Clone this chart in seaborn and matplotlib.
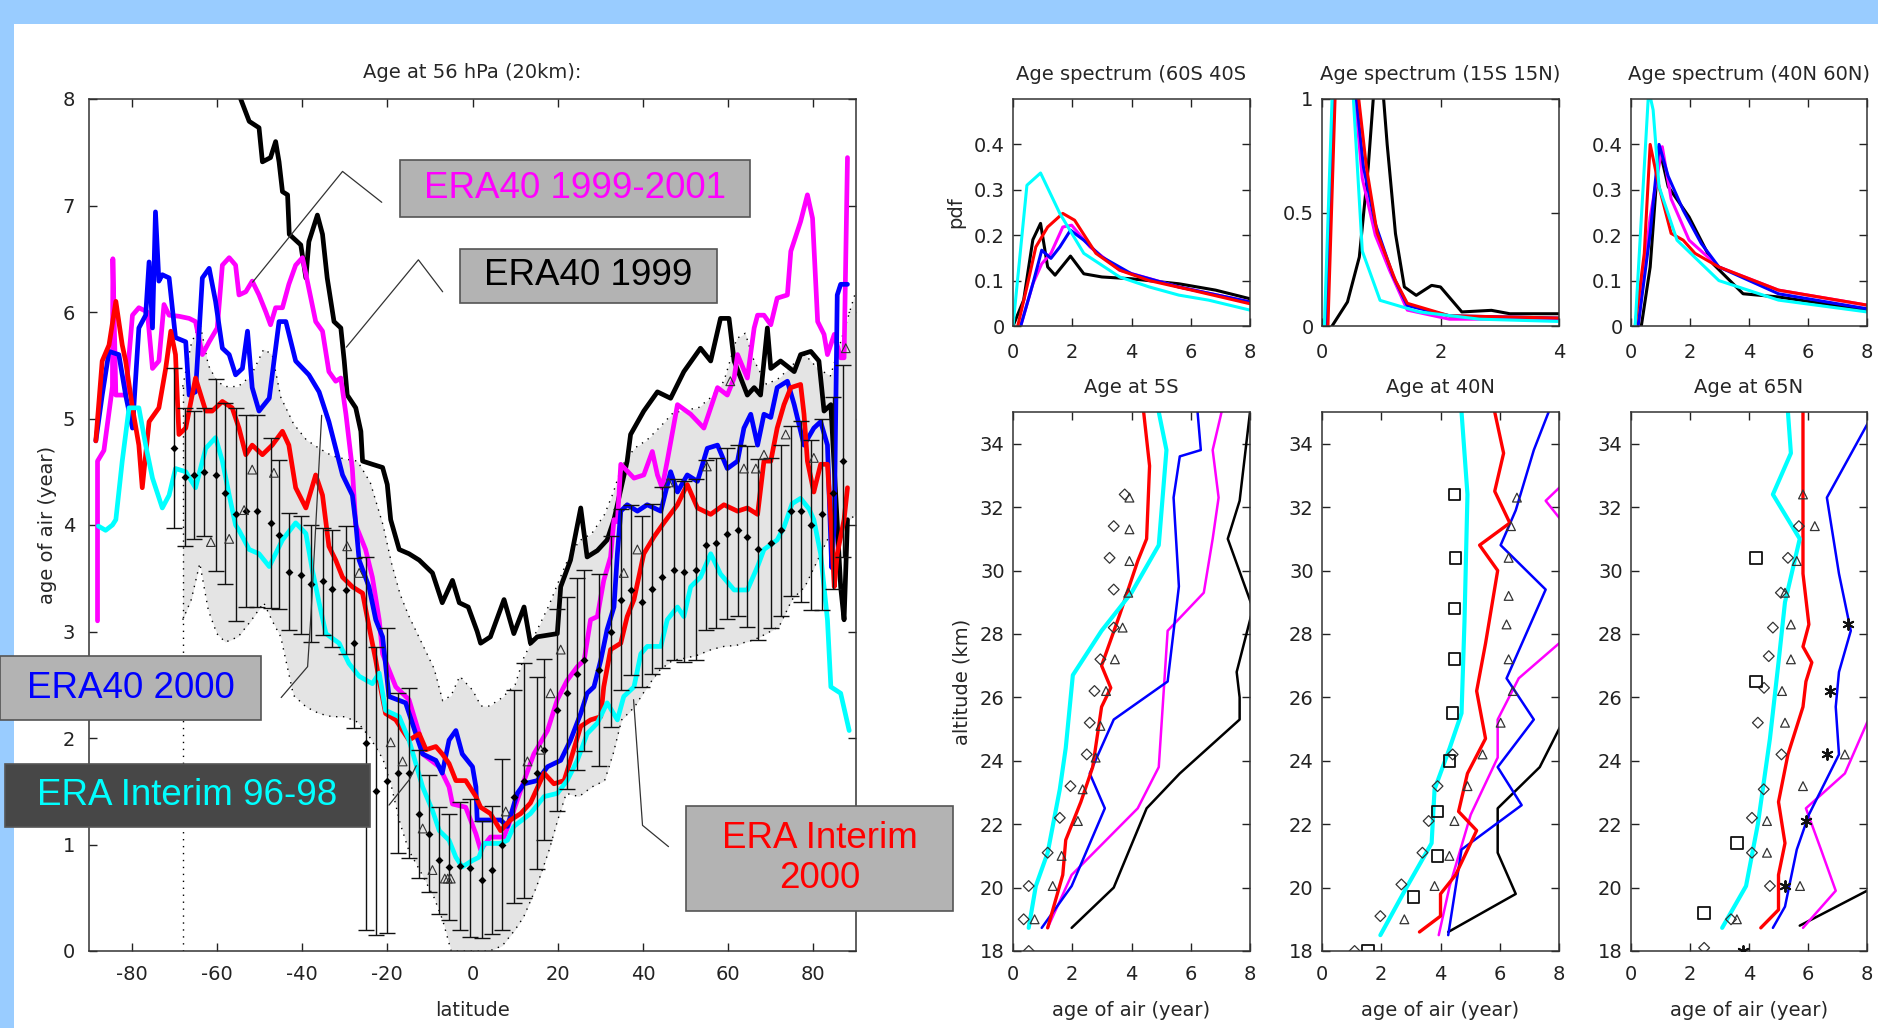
import numpy as np
import matplotlib
matplotlib.use("Agg")
import matplotlib.pyplot as plt
from matplotlib.patches import Rectangle
import seaborn as sns

# ---------------- main panel data (latitude, age in years) ----------------
era40_1999 = [(-56, 8.3), (-54.4, 8.0), (-52.4, 7.79), (-50.1, 7.73), (-49.3, 7.41), (-47.4, 7.45), (-46.2, 7.6),
              (-45.4, 7.41), (-44.6, 7.13), (-43.4, 7.1), (-43.0, 6.73), (-40.3, 6.63), (-39.1, 6.32), (-38.4, 6.66),
              (-36.4, 6.91), (-35.2, 6.73), (-34.1, 6.32), (-32.5, 5.91), (-30.9, 5.85), (-30.1, 5.54), (-29.4, 5.22),
              (-27.4, 5.1), (-26.2, 4.88), (-25.8, 4.6), (-23.5, 4.57), (-21.1, 4.54), (-20.0, 4.38), (-19.2, 4.05),
              (-17.2, 3.77), (-14.9, 3.73), (-12.5, 3.67), (-9.4, 3.55), (-7.1, 3.27), (-4.7, 3.48), (-3.1, 3.27),
              (-1.0, 3.23), (1.1, 3.0), (1.9, 2.89), (4.2, 2.95), (7.4, 3.3), (9.7, 2.98), (12.1, 3.23), (13.6, 2.89),
              (15.2, 2.95), (19.9, 2.98), (20.7, 3.42), (23.0, 3.67), (25.4, 4.16), (26.9, 3.7), (29.3, 3.76),
              (31.6, 3.86), (33.2, 4.05), (36.3, 4.6), (37.1, 4.85), (40.2, 5.07), (43.4, 5.25), (46.5, 5.19),
              (49.6, 5.44), (53.5, 5.66), (55.9, 5.54), (58.2, 5.94), (60.2, 5.94), (61.4, 5.54), (64.5, 5.22),
              (66.1, 5.29), (67.6, 5.22), (69.2, 5.85), (70.0, 5.47), (72.3, 5.54), (75.5, 5.44), (77.0, 5.6),
              (79.4, 5.63), (81.3, 5.54), (82.5, 5.07), (84.1, 5.13), (86.4, 3.42), (87.2, 3.11), (88.0, 4.05)]

era40_1999_2001 = [(-88.0, 3.1), (-88.0, 4.6), (-86.5, 4.7), (-84.5, 5.3), (-84.4, 6.5), (-83.7, 5.22), (-81.4, 5.22),
                   (-79.8, 5.97), (-78.3, 6.04), (-76.3, 6.0), (-75.1, 5.47), (-73.6, 5.54), (-72.4, 6.07),
                   (-71.2, 5.97), (-68.9, 5.96), (-66.5, 5.94), (-65.0, 5.91), (-63.4, 5.6), (-61.8, 5.72),
                   (-59.9, 5.85), (-58.7, 6.44), (-57.1, 6.51), (-55.6, 6.44), (-54.8, 6.16), (-53.2, 6.19),
                   (-51.7, 6.29), (-50.1, 6.16), (-48.5, 6.0), (-47.4, 5.88), (-46.2, 6.04), (-44.6, 6.04),
                   (-43.1, 6.26), (-41.5, 6.44), (-39.9, 6.51), (-38.4, 6.22), (-36.8, 5.91), (-35.2, 5.82),
                   (-33.7, 5.44), (-32.1, 5.35), (-30.9, 5.38), (-29.7, 5.04), (-28.2, 4.53), (-27.4, 4.0),
                   (-25.1, 3.77), (-23.5, 3.51), (-21.9, 3.11), (-21.1, 2.79), (-19.6, 2.64), (-18.0, 2.48),
                   (-14.9, 2.36), (-12.5, 2.04), (-11.7, 1.85), (-7.8, 1.73), (-5.5, 1.54), (-4.7, 1.38),
                   (-1.6, 1.35), (0.8, 1.1), (1.9, 0.95), (4.2, 1.07), (7.4, 1.07), (8.9, 1.23), (12.1, 1.6),
                   (14.4, 1.85), (17.6, 2.07), (19.9, 2.36), (22.2, 2.54), (24.6, 2.67), (26.2, 2.73), (27.7, 3.11),
                   (29.3, 3.14), (30.8, 3.48), (32.4, 3.7), (33.2, 4.05), (34.0, 4.03), (34.8, 4.57), (37.9, 4.44),
                   (40.2, 4.47), (42.2, 4.69), (43.4, 4.47), (44.5, 4.35), (45.7, 4.6), (48.1, 5.13), (51.2, 5.04),
                   (54.3, 4.91), (57.5, 5.29), (59.8, 5.22), (61.4, 5.38), (62.2, 5.6), (64.5, 5.38), (66.1, 5.85),
                   (66.9, 5.97), (68.4, 5.97), (70.0, 5.88), (71.5, 6.13), (73.9, 6.16), (74.7, 6.57), (77.0, 6.85),
                   (78.6, 7.1), (79.8, 6.88), (81.0, 5.91), (82.5, 5.79), (83.3, 5.6), (84.9, 5.79), (86.4, 5.57),
                   (87.2, 5.57), (88.0, 7.45)]

era40_2000 = [(-88.4, 4.79), (-86.9, 5.22), (-85.3, 5.63), (-83.0, 5.6), (-81.4, 5.22), (-79.8, 4.91), (-78.3, 5.85),
              (-76.7, 5.97), (-75.9, 6.47), (-75.1, 5.85), (-74.4, 6.94), (-73.6, 6.29), (-72.8, 6.35), (-71.2, 6.32),
              (-69.7, 5.76), (-67.3, 5.72), (-66.5, 5.22), (-65.0, 5.25), (-63.4, 6.32), (-61.8, 6.41), (-60.3, 6.1),
              (-58.7, 5.66), (-57.1, 5.6), (-55.6, 5.41), (-54.0, 5.47), (-52.8, 5.82), (-51.7, 5.29), (-50.1, 5.07),
              (-47.7, 5.19), (-45.4, 5.91), (-43.8, 5.91), (-41.5, 5.54), (-38.4, 5.41), (-36.0, 5.25), (-33.7, 4.97),
              (-32.1, 4.72), (-30.5, 4.47), (-28.2, 4.28), (-27.4, 4.02), (-26.6, 3.67), (-24.3, 3.42), (-22.7, 3.11),
              (-21.1, 2.95), (-19.6, 2.39), (-15.7, 2.33), (-13.3, 2.04), (-11.7, 1.85), (-8.6, 1.79), (-7.1, 1.67),
              (-5.5, 1.98), (-3.9, 2.07), (-2.4, 1.85), (0.0, 1.73), (0.8, 1.54), (1.1, 1.23), (3.5, 1.23),
              (6.6, 1.23), (8.2, 1.17), (10.5, 1.48), (12.1, 1.57), (15.2, 1.6), (17.6, 1.73), (20.7, 1.79),
              (23.0, 1.98), (25.4, 2.23), (26.9, 2.42), (28.5, 2.48), (30.1, 2.73), (31.6, 3.02), (33.2, 3.23),
              (34.0, 3.73), (34.8, 4.13), (36.3, 4.19), (38.7, 4.13), (41.0, 4.19), (44.2, 4.13), (46.5, 4.5),
              (48.1, 4.31), (50.4, 4.47), (52.8, 4.41), (55.1, 4.72), (57.5, 4.75), (59.8, 4.53), (62.2, 4.6),
              (63.7, 4.91), (65.3, 5.04), (66.9, 4.75), (68.4, 5.04), (70.0, 5.01), (71.5, 5.29), (73.9, 5.35),
              (75.5, 5.13), (77.8, 4.75), (80.1, 4.91), (81.7, 4.97), (83.3, 4.75), (84.3, 3.6), (84.9, 4.0),
              (85.6, 6.16), (86.4, 6.26), (88.0, 6.26)]

erai_2000 = [(-88.4, 4.79), (-86.9, 5.54), (-85.3, 5.69), (-83.7, 6.1), (-82.2, 5.69), (-81.4, 5.54), (-79.8, 5.1),
             (-78.3, 4.75), (-77.5, 4.35), (-75.9, 4.97), (-73.6, 5.1), (-72.0, 5.47), (-70.8, 5.82), (-69.7, 5.6),
             (-68.9, 4.85), (-67.3, 4.91), (-65.0, 5.38), (-62.6, 5.07), (-61.1, 5.07), (-58.7, 5.16), (-56.4, 5.1),
             (-54.8, 4.91), (-53.2, 4.66), (-51.7, 4.75), (-49.3, 4.66), (-47.0, 4.75), (-44.6, 4.88), (-43.1, 4.75),
             (-41.5, 4.35), (-39.1, 4.16), (-36.8, 4.47), (-35.2, 4.28), (-33.7, 3.8), (-32.1, 3.67), (-30.5, 3.51),
             (-28.2, 3.42), (-25.8, 3.36), (-24.3, 3.05), (-22.7, 2.73), (-21.9, 2.54), (-20.4, 2.23), (-18.0, 2.17),
             (-16.4, 2.07), (-14.9, 1.98), (-12.5, 2.04), (-10.9, 1.89), (-8.6, 1.92), (-7.1, 1.85), (-5.5, 1.76),
             (-3.9, 1.6), (-1.6, 1.6), (0.8, 1.45), (1.9, 1.35), (4.2, 1.29), (6.6, 1.13), (8.9, 1.23), (11.3, 1.29),
             (13.6, 1.39), (16.8, 1.67), (19.1, 1.57), (21.5, 1.6), (23.0, 1.79), (25.4, 2.11), (27.7, 2.17),
             (30.1, 2.2), (30.8, 2.48), (32.4, 2.83), (34.8, 2.89), (36.3, 3.14), (37.9, 3.3), (38.7, 3.45),
             (40.2, 3.73), (42.6, 3.89), (44.9, 4.02), (48.1, 4.19), (50.4, 4.38), (52.8, 4.16), (55.9, 4.1),
             (59.0, 4.19), (62.2, 4.13), (64.5, 4.16), (66.9, 4.1), (68.4, 4.6), (70.0, 4.6), (71.5, 4.91),
             (73.1, 5.13), (74.7, 5.29), (77.0, 5.32), (77.8, 5.04), (78.6, 4.6), (80.1, 4.31), (81.7, 4.57),
             (83.3, 4.57), (84.1, 4.05), (84.9, 3.42), (85.6, 3.73), (87.2, 4.05), (88.0, 4.35)]

erai_9698 = [(-87.8, 3.99), (-86.1, 3.95), (-84.5, 4.0), (-83.7, 4.05), (-82.2, 4.6), (-80.6, 5.1), (-78.3, 5.1),
             (-76.7, 4.75), (-75.1, 4.44), (-72.8, 4.16), (-71.2, 4.28), (-69.7, 4.53), (-67.3, 4.5), (-65.0, 4.35),
             (-62.6, 4.72), (-60.3, 4.82), (-58.7, 4.6), (-57.1, 4.28), (-55.6, 4.0), (-54.8, 3.95), (-52.4, 3.77),
             (-50.1, 3.73), (-47.7, 3.61), (-44.6, 3.86), (-41.5, 4.02), (-39.1, 3.92), (-37.6, 3.58), (-36.0, 3.27),
             (-34.4, 2.98), (-31.3, 2.89), (-29.0, 2.7), (-26.6, 2.58), (-23.5, 2.51), (-21.9, 2.61), (-20.4, 2.26),
             (-17.2, 2.2), (-14.9, 1.98), (-13.3, 1.76), (-11.7, 1.54), (-9.4, 1.32), (-7.8, 1.13), (-5.5, 1.04),
             (-3.9, 0.88), (-2.4, 0.79), (0.0, 0.85), (1.5, 0.88), (2.7, 1.01), (6.6, 1.01), (8.2, 1.04), (9.7, 1.17),
             (13.6, 1.29), (16.8, 1.45), (19.9, 1.48), (22.2, 1.6), (24.6, 1.79), (26.9, 2.04), (29.3, 2.14),
             (31.6, 2.33), (34.0, 2.17), (35.5, 2.39), (37.9, 2.48), (39.5, 2.79), (41.0, 2.86), (44.2, 2.86),
             (45.7, 3.11), (48.1, 3.23), (49.6, 3.14), (51.2, 3.42), (53.5, 3.51), (55.9, 3.73), (58.2, 3.54),
             (61.4, 3.39), (64.5, 3.39), (66.9, 3.61), (68.4, 3.77), (71.5, 3.86), (73.1, 3.98), (75.0, 4.2),
             (77.0, 4.25), (79.0, 4.15), (80.1, 4.05), (81.7, 3.73), (83.3, 3.11), (84.1, 2.48), (86.4, 2.42),
             (88.4, 2.07)]

# observational envelope (grey band)
band_lat = [-68, -66, -64, -62, -60, -58, -55, -52, -49, -47, -45, -42, -39, -36, -33, -30, -27, -24, -21, -19,
            -17, -15, -12, -9, -7, -5, -3, 0, 2, 4, 7, 10, 12, 15, 18, 20, 22, 25, 28, 31,
            33, 35, 38, 41, 44, 47, 50, 53, 56, 59, 62, 64, 66, 69, 72, 75, 78, 81, 84, 87, 90]
band_hi = [5.3, 5.7, 5.9, 5.5, 5.35, 5.3, 5.3, 5.4, 5.65, 5.6, 5.2, 4.95, 4.8, 4.72, 4.65, 4.62, 4.6, 4.4, 4.0, 3.64,
           3.35, 3.15, 2.9, 2.65, 2.35, 2.4, 2.58, 2.45, 2.3, 2.3, 2.38, 2.5, 2.75, 3.0, 3.25, 3.45, 3.64, 3.85, 3.92, 4.1,
           4.3, 4.55, 4.72, 4.8, 4.92, 5.05, 5.08, 5.1, 5.2, 5.35, 5.75, 5.8, 5.55, 5.32, 5.38, 5.5, 5.6, 5.47, 5.4, 5.8, 6.2]
band_lo = [3.11, 3.3, 3.64, 3.2, 2.98, 2.9, 2.95, 3.1, 3.27, 3.1, 2.95, 2.4, 2.29, 2.23, 2.2, 2.2, 2.15, 2.0, 1.8, 1.54,
           1.2, 0.95, 0.73, 0.5, 0.29, 0.0, 0.0, 0.0, 0.0, 0.0, 0.05, 0.2, 0.32, 0.6, 0.95, 1.23, 1.48, 1.45, 1.54, 1.6,
           1.85, 2.17, 2.29, 2.48, 2.64, 2.73, 2.75, 2.78, 2.83, 2.86, 2.87, 2.9, 2.92, 2.98, 3.05, 3.3, 3.42, 3.67, 3.92, 4.0, 4.1]

# observations with error bars
obs_lat = [-70, -67.5, -65.4, -63, -60.3, -58, -55.5, -53.2, -50.5, -47.4, -45.4, -43.1, -40.3, -38, -35.2, -32.9,
           -29.7, -27.8, -25.1, -22.7, -20, -17.6, -14.9, -12.5, -10.2, -7.8, -5.5, -3, -0.5, 2.3, 4.6, 7.0, 9.7,
           12.1, 15.2, 16.8, 19.9, 22.2, 24.6, 26.2, 29.7, 32.4, 34.8, 37.1, 39.8, 42.2, 44.5, 47.3, 49.6, 52.4,
           54.7, 57.1, 59.8, 62.2, 64.5, 66.9, 70, 72.5, 74.7, 77, 79.5, 82, 84.5, 87]
obs_mean = [4.72, 4.45, 4.47, 4.5, 4.47, 4.3, 4.1, 4.13, 4.13, 4.02, 3.91, 3.56, 3.53, 3.45, 3.47, 3.4,
            3.39, 2.89, 1.95, 1.5, 1.6, 1.67, 1.67, 1.29, 1.1, 0.85, 0.79, 0.8, 0.78, 0.67, 0.76, 1.0, 1.45,
            1.6, 1.67, 1.89, 2.26, 2.42, 2.6, 2.73, 2.64, 3.0, 3.3, 3.39, 3.28, 3.4, 3.51, 3.58, 3.56, 3.58,
            3.81, 3.83, 3.92, 3.95, 3.89, 3.77, 3.83, 3.95, 4.13, 4.13, 4.0, 4.1, 4.3, 4.6]
obs_err = [0.75, 0.65, 0.6, 0.6, 0.9, 0.85, 1.0, 0.9, 0.9, 0.8, 0.7, 0.55, 0.55, 0.55, 0.5, 0.55,
           0.6, 0.8, 1.75, 1.35, 1.43, 0.75, 0.8, 0.6, 0.55, 0.5, 0.5, 0.6, 0.65, 0.55, 0.6, 0.8, 1.0,
           1.1, 0.9, 0.85, 0.95, 0.9, 0.9, 0.85, 0.9, 0.9, 0.85, 0.8, 0.8, 0.8, 0.85, 0.85, 0.85, 0.85,
           0.8, 0.8, 0.8, 0.8, 0.85, 0.85, 0.8, 0.8, 0.8, 0.85, 0.8, 0.9, 0.9, 0.9]
tri_lat = [-61.4, -57.1, -53.6, -51.7, -46.6, -29.4, -26.6, -19.2, -16.4, -11.7, -9.4, -6.5, -5.8, -5.1,
           7.8, 12.9, 16.0, 18.3, 20.7, 35.5, 38.7, 46.0, 55.0, 60.5, 63.7, 66.5, 68.4, 73.5, 80.1, 87.6]
tri_age = [3.84, 3.87, 4.14, 4.52, 4.49, 3.8, 3.55, 1.96, 1.78, 1.15, 0.76, 0.68, 0.68, 0.68,
           1.31, 1.78, 1.89, 2.42, 2.83, 3.55, 3.77, 4.4, 4.55, 5.35, 4.53, 4.53, 4.66, 4.85, 4.63, 5.66]

# ---------------- age spectra (age, pdf) ----------------
spec_60s40s = {
    "k": [(0, 0), (0.36, 0.057), (0.67, 0.19), (0.93, 0.226), (1.17, 0.13), (1.42, 0.112), (1.94, 0.154),
          (2.39, 0.115), (3.0, 0.108), (4.0, 0.104), (5.6, 0.093), (6.84, 0.079), (8, 0.06)],
    "m": [(0.26, 0), (0.67, 0.093), (0.97, 0.137), (1.28, 0.16), (1.68, 0.218), (1.98, 0.222), (2.6, 0.174),
          (3.6, 0.123), (5.6, 0.086), (8, 0.053)],
    "b": [(0.26, 0), (0.67, 0.093), (0.97, 0.167), (1.28, 0.149), (1.58, 0.174), (1.94, 0.211), (2.39, 0.189),
          (3.0, 0.152), (4.0, 0.115), (5.6, 0.086), (8, 0.053)],
    "r": [(0.16, 0), (0.47, 0.086), (0.77, 0.174), (1.17, 0.218), (1.68, 0.248), (2.08, 0.233), (2.8, 0.16),
          (3.6, 0.123), (4.6, 0.1), (6.03, 0.079), (8, 0.049)],
    "c": [(0, 0), (0.47, 0.31), (0.93, 0.337), (1.58, 0.248), (2.39, 0.16), (3.6, 0.108), (4.6, 0.086),
          (5.6, 0.068), (6.6, 0.057), (8, 0.035)],
}
spec_15s15n = {
    "k": [(0.17, 0), (0.43, 0.106), (0.63, 0.304), (0.78, 0.7), (0.95, 1.3), (1.1, 0.8), (1.24, 0.407),
          (1.39, 0.172), (1.59, 0.135), (1.85, 0.179), (2.0, 0.172), (2.36, 0.062), (2.86, 0.069), (3.17, 0.054), (4, 0.054)],
    "m": [(0.07, 0), (0.2, 1.0), (0.3, 1.6), (0.46, 1.6), (0.56, 1.0), (0.68, 0.65), (0.9, 0.4), (1.14, 0.245),
          (1.44, 0.07), (2.15, 0.03), (4, 0.03)],
    "b": [(0.07, 0), (0.2, 1.0), (0.3, 1.6), (0.48, 1.6), (0.58, 1.0), (0.7, 0.7), (0.9, 0.45), (1.2, 0.22),
          (1.44, 0.09), (2.15, 0.045), (4, 0.035)],
    "r": [(0.1, 0), (0.22, 1.0), (0.3, 1.6), (0.5, 1.6), (0.62, 1.0), (0.75, 0.7), (0.93, 0.41), (1.24, 0.2),
          (1.44, 0.1), (2.15, 0.045), (4, 0.035)],
    "c": [(0.04, 0), (0.17, 1.0), (0.25, 1.6), (0.4, 1.6), (0.53, 1.0), (0.68, 0.33), (0.98, 0.113), (1.64, 0.062),
          (2.66, 0.03), (4, 0.02)],
}
spec_40n60n = {
    "k": [(0.35, 0), (0.65, 0.13), (0.95, 0.395), (1.26, 0.307), (1.97, 0.24), (2.78, 0.137), (3.8, 0.071),
          (5.0, 0.064), (8, 0.035)],
    "m": [(0.24, 0), (0.65, 0.24), (1.06, 0.395), (1.36, 0.28), (1.97, 0.189), (2.98, 0.13), (5.0, 0.079), (8, 0.046)],
    "b": [(0.24, 0), (0.65, 0.204), (0.95, 0.4), (1.26, 0.33), (1.77, 0.255), (2.38, 0.182), (2.98, 0.13),
          (5.0, 0.071), (8, 0.038)],
    "r": [(0.14, 0), (0.45, 0.16), (0.65, 0.4), (0.95, 0.307), (1.36, 0.204), (1.77, 0.189), (2.17, 0.16),
          (2.98, 0.13), (5.0, 0.079), (8, 0.046)],
    "c": [(0.14, 0), (0.45, 0.35), (0.6, 0.52), (0.75, 0.476), (0.95, 0.307), (1.56, 0.189), (2.98, 0.1),
          (5.0, 0.057), (8, 0.031)],
}

# ---------------- vertical profiles (age, altitude km) ----------------
prof_5s = {
    "k": [(1.98, 18.73), (3.4, 20.0), (4.51, 22.5), (5.63, 23.6), (7.65, 25.3), (7.65, 26.0), (7.55, 26.8),
          (8.1, 28.8), (7.25, 31.0), (7.65, 32.2), (8, 35)],
    "m": [(1.17, 18.73), (1.98, 20.4), (4.21, 22.5), (4.92, 23.8), (5.22, 28.1), (6.44, 29.3), (6.74, 31.0),
          (6.94, 32.3), (6.74, 33.8), (7.04, 35)],
    "b": [(0.97, 18.73), (1.98, 20.05), (3.1, 22.5), (2.59, 23.6), (3.4, 25.3), (5.22, 26.5), (5.6, 29.5),
          (5.42, 32.3), (5.63, 33.6), (6.34, 33.8), (6.23, 35)],
    "r": [(1.17, 18.73), (1.68, 20.4), (1.78, 21.5), (2.29, 22.7), (2.69, 23.8), (2.99, 25.7), (3.3, 26.3),
          (2.99, 27.0), (3.6, 28.6), (4.21, 30.3), (4.51, 31.0), (4.61, 33.3), (4.41, 35)],
    "c": [(0.53, 18.73), (0.77, 20.05), (1.17, 21.1), (1.58, 23.1), (1.78, 24.4), (2.02, 26.7), (2.99, 28.1),
          (4.0, 29.3), (4.92, 30.8), (5.18, 33.8), (4.92, 35)],
}
prof_40n = {
    "k": [(4.26, 18.6), (6.54, 19.8), (5.93, 21.1), (5.93, 22.5), (7.35, 23.8), (8, 25.0), (9, 27)],
    "m": [(3.94, 18.5), (4.31, 20.05), (5.02, 22.3), (5.93, 24.1), (5.93, 25.3), (6.64, 26.6), (8, 27.7),
          (9, 28.5), (9, 30.5), (7.55, 32.2), (9, 33.5)],
    "b": [(4.26, 18.5), (4.71, 21.2), (6.74, 22.6), (5.93, 23.8), (7.15, 25.3), (6.23, 26.6), (7.55, 29.4),
          (6.03, 30.8), (6.54, 31.9), (7.15, 33.8), (7.65, 35)],
    "r": [(3.29, 18.6), (4.0, 19.1), (4.0, 19.8), (4.51, 20.4), (5.22, 21.8), (4.61, 22.4), (4.91, 23.6),
          (5.52, 24.7), (5.22, 26.2), (5.52, 27.7), (5.93, 30.0), (5.32, 30.8), (6.34, 31.5), (5.83, 32.5),
          (6.13, 33.7), (5.83, 35)],
    "c": [(1.97, 18.5), (2.88, 20.05), (3.7, 21.4), (3.8, 23.1), (4.31, 24.4), (4.71, 25.5), (4.81, 28.4),
          (4.91, 32.4), (4.71, 35)],
}
prof_65n = {
    "k": [(5.72, 18.8), (8, 19.9), (9, 20.4)],
    "m": [(5.83, 18.73), (6.94, 19.9), (6.44, 21.2), (5.93, 22.5), (7.25, 23.6), (8, 25.2), (9, 26.5)],
    "b": [(4.81, 18.73), (5.22, 19.4), (5.62, 21.2), (6.03, 22.3), (7.05, 24.2), (6.94, 25.7), (7.05, 26.8),
          (7.45, 28.1), (7.05, 29.9), (6.64, 32.3), (8, 34.6), (8.5, 35.5)],
    "r": [(4.4, 18.73), (5.0, 19.3), (5.0, 20.4), (5.22, 21.4), (5.0, 22.7), (5.32, 24.2), (5.83, 25.7),
          (5.93, 26.5), (6.13, 27.1), (5.83, 27.6), (6.03, 28.3), (5.83, 29.9), (5.83, 32.3), (5.83, 35)],
    "c": [(3.09, 18.73), (3.9, 20.05), (4.3, 22.0), (4.71, 24.7), (5.0, 27.1), (5.22, 29.0), (5.72, 31.0),
          (4.81, 32.4), (5.42, 33.7), (5.32, 35)],
}

# observation symbols on profiles
p5s_diam_age = [0.53, 0.36, 0.53, 1.17, 1.58, 1.94, 2.49, 2.59, 2.75, 2.95, 3.4, 3.4, 3.26, 3.4, 3.77]
p5s_diam_alt = [18.0, 19.0, 20.05, 21.1, 22.2, 23.2, 24.2, 25.2, 26.2, 27.2, 28.2, 29.4, 30.4, 31.4, 32.4]
p5s_tri_age = [0.73, 1.34, 1.64, 2.19, 2.35, 2.79, 2.95, 3.14, 3.44, 3.7, 3.89, 3.93, 3.93, 3.93]
p5s_tri_alt = [19.0, 20.05, 21.0, 22.1, 23.1, 24.1, 25.1, 26.2, 27.2, 28.2, 29.3, 30.3, 31.3, 32.3]

p40_sq_age = [1.56, 3.09, 3.9, 3.9, 4.3, 4.4, 4.47, 4.47, 4.51, 4.47]
p40_sq_alt = [18.0, 19.7, 21.0, 22.4, 24.0, 25.5, 27.2, 28.8, 30.4, 32.4]
p40_diam_age = [1.1, 1.97, 2.68, 3.39, 3.6, 3.9, 4.41]
p40_diam_alt = [18.0, 19.1, 20.1, 21.1, 22.1, 23.2, 24.2]
p40_tri_age = [2.78, 3.8, 4.3, 4.47, 4.91, 5.42, 6.03, 6.44, 6.3, 6.23, 6.3, 6.3, 6.38, 6.58]
p40_tri_alt = [19.0, 20.05, 21.0, 22.1, 23.2, 24.2, 25.2, 26.2, 27.2, 28.3, 29.2, 30.4, 31.4, 32.3]

p65_sq_age = [2.48, 3.59, 4.24, 4.24]
p65_sq_alt = [19.2, 21.4, 26.5, 30.4]
p65_diam_age = [2.48, 3.39, 4.71, 4.1, 4.1, 4.5, 5.1, 4.3, 4.51, 4.67, 4.81, 5.08, 5.32, 5.69]
p65_diam_alt = [18.1, 19.0, 20.05, 21.1, 22.2, 23.1, 24.2, 25.2, 26.3, 27.3, 28.2, 29.3, 30.4, 31.4]
p65_tri_age = [3.59, 5.73, 4.61, 4.61, 5.83, 7.25, 5.22, 5.12, 5.42, 5.42, 5.22, 5.62, 6.23, 5.83]
p65_tri_alt = [19.0, 20.05, 21.1, 22.1, 23.2, 24.2, 25.2, 26.2, 27.2, 28.3, 29.3, 30.3, 31.4, 32.4]
p65_star_age = [3.8, 5.22, 5.93, 6.64, 6.74, 7.35]
p65_star_alt = [18.0, 20.05, 22.1, 24.2, 26.2, 28.3]

COLORS = {"k": "#000000", "m": "#FF00FF", "b": "#0000FF", "r": "#FF0000", "c": "#00FFFF"}
ORDER = ["k", "m", "b", "r", "c"]

sns.set_style("ticks")
plt.rcParams["font.family"] = ["DejaVu Sans"]
plt.rcParams["axes.edgecolor"] = "#333333"
plt.rcParams["axes.linewidth"] = 1.1
plt.rcParams["axes.unicode_minus"] = False

W, H = 1878, 1028
fig = plt.figure(figsize=(W / 100, H / 100), dpi=100)
fig.patch.set_facecolor("white")


def px_axes(x0, y0, x1, y1):
    # axes from pixel box (top-left origin)
    return fig.add_axes([x0 / W, 1 - y1 / H, (x1 - x0) / W, (y1 - y0) / H])


def style_axes(ax, pad=8):
    ax.tick_params(direction="in", top=True, right=True, length=6, width=1,
                   labelsize=14, pad=pad, colors="#222222")
    for s in ax.spines.values():
        s.set_visible(True)


def draw(ax, pts, color, lw):
    arr = np.array(pts, dtype=float)
    sns.lineplot(x=arr[:, 0], y=arr[:, 1], sort=False, estimator=None,
                 color=color, lw=lw, ax=ax)


# ---------------- main panel ----------------
ax = px_axes(89, 99, 856, 951)
ax.fill_between(band_lat, band_lo, band_hi, color="#E4E4E4", lw=0, zorder=1)
ax.plot(band_lat, band_hi, color="k", lw=1, ls=(0, (1, 4)), zorder=2)
ax.plot(band_lat, band_lo, color="k", lw=1, ls=(0, (1, 4)), zorder=2)
ax.plot([-68, -68], [0, 5.3], color="k", lw=1, ls=(0, (1, 4)), zorder=2)
ax.errorbar(obs_lat, obs_mean, yerr=obs_err, fmt="none", ecolor="#111111",
            elinewidth=1, capsize=6, capthick=1, zorder=3)
sns.scatterplot(x=obs_lat, y=obs_mean, marker="D", s=16, color="k", ax=ax, zorder=4, linewidth=0)
sns.scatterplot(x=tri_lat, y=tri_age, marker="^", s=40, facecolor="none",
                edgecolor="#333333", linewidth=0.8, ax=ax, zorder=4)

main_series = {"k": era40_1999, "m": era40_1999_2001, "b": era40_2000, "r": erai_2000, "c": erai_9698}
for key in ORDER:
    draw(ax, main_series[key], COLORS[key], 3.4)

ax.set_xlim(-90, 90)
ax.set_ylim(0, 8)
ax.set_xticks(range(-80, 81, 20))
ax.set_yticks(range(0, 9))
style_axes(ax, pad=10)
ax.set_xlabel("latitude", fontsize=14, labelpad=12)
ax.set_ylabel("age of air (year)", fontsize=14, labelpad=4)
ax.set_title("Age at 56 hPa (20km):", fontsize=14, pad=15)

# leader lines of the labels
leaders = [
    [(-21.3, 7.03), (-30.5, 7.32), (-51.6, 6.28)],
    [(-7.0, 6.19), (-12.7, 6.49), (-29.6, 5.67)],
    [(-44.9, 2.38), (-38.7, 2.67), (-37.9, 3.16), (-35.4, 5.03)],
    [(-19.6, 1.37), (-14.8, 1.61), (-13.2, 1.74)],
    [(46.0, 0.98), (39.9, 1.18), (37.8, 2.36)],
]
for ld in leaders:
    arr = np.array(ld)
    ax.plot(arr[:, 0], arr[:, 1], color="#333333", lw=0.9, zorder=6, clip_on=False)

# ---------------- age spectra ----------------
spec_boxes = [(1013, 1250), (1322, 1559), (1631, 1867)]
spec_data = [spec_60s40s, spec_15s15n, spec_40n60n]
spec_titles = ["Age spectrum (60S 40S", "Age spectrum (15S 15N)", "Age spectrum (40N 60N)"]
for i, ((x0, x1), data, title) in enumerate(zip(spec_boxes, spec_data, spec_titles)):
    a = px_axes(x0, 99, x1, 326)
    for key in ORDER:
        draw(a, data[key], COLORS[key], 2.2)
    if i == 1:
        a.set_xlim(0, 4)
        a.set_ylim(0, 1)
        a.set_xticks([0, 2, 4])
        a.set_yticks([0, 0.5, 1])
        a.set_yticklabels(["0", "0.5", "1"])
    else:
        a.set_xlim(0, 8)
        a.set_ylim(0, 0.5)
        a.set_xticks([0, 2, 4, 6, 8])
        a.set_yticks([0, 0.1, 0.2, 0.3, 0.4])
        a.set_yticklabels(["0", "0.1", "0.2", "0.3", "0.4"])
    style_axes(a, pad=6)
    a.tick_params(axis="x", pad=12)
    a.set_title(title, fontsize=14, pad=14)
    if i == 0:
        a.set_ylabel("pdf", fontsize=14, labelpad=6)

# ---------------- profiles ----------------
prof_data = [prof_5s, prof_40n, prof_65n]
prof_titles = ["Age at 5S", "Age at 40N", "Age at 65N"]
prof_axes = []
for i, ((x0, x1), data, title) in enumerate(zip(spec_boxes, prof_data, prof_titles)):
    a = px_axes(x0, 412, x1, 951)
    widths = {"k": 1.8, "m": 1.8, "b": 1.8, "r": 2.4, "c": 3.0}
    for key in ORDER:
        draw(a, data[key], COLORS[key], widths[key])
    a.set_xlim(0, 8)
    a.set_ylim(18, 35)
    a.set_xticks([0, 2, 4, 6, 8])
    a.set_yticks(range(18, 35, 2))
    style_axes(a, pad=6)
    a.tick_params(axis="x", pad=10)
    a.set_title(title, fontsize=14, pad=14)
    a.set_xlabel("age of air (year)", fontsize=14, labelpad=12)
    if i == 0:
        a.set_ylabel("altitude (km)", fontsize=14, labelpad=6)
    prof_axes.append(a)

mk = dict(facecolor="none", edgecolor="#333333", linewidth=0.9, zorder=5)
sns.scatterplot(x=p5s_diam_age, y=p5s_diam_alt, marker="D", s=30, ax=prof_axes[0], **mk)
sns.scatterplot(x=p5s_tri_age, y=p5s_tri_alt, marker="^", s=40, ax=prof_axes[0], **mk)
sns.scatterplot(x=p40_diam_age, y=p40_diam_alt, marker="D", s=30, ax=prof_axes[1], **mk)
sns.scatterplot(x=p40_tri_age, y=p40_tri_alt, marker="^", s=40, ax=prof_axes[1], **mk)
sns.scatterplot(x=p40_sq_age, y=p40_sq_alt, marker="s", s=70, ax=prof_axes[1],
                facecolor="none", edgecolor="#111111", linewidth=1.3, zorder=5)
sns.scatterplot(x=p65_diam_age, y=p65_diam_alt, marker="D", s=30, ax=prof_axes[2], **mk)
sns.scatterplot(x=p65_tri_age, y=p65_tri_alt, marker="^", s=40, ax=prof_axes[2], **mk)
sns.scatterplot(x=p65_sq_age, y=p65_sq_alt, marker="s", s=70, ax=prof_axes[2],
                facecolor="none", edgecolor="#111111", linewidth=1.3, zorder=5)
sns.scatterplot(x=p65_star_age, y=p65_star_alt, marker=(6, 2, 0), s=60, ax=prof_axes[2],
                color="#111111", linewidth=1.4, zorder=5)
for a in prof_axes:
    a.set_xlim(0, 8)
    a.set_ylim(18, 35)

# ---------------- page decoration ----------------
fig.patches.append(Rectangle((0, 1 - 24 / H), 1, 24 / H, transform=fig.transFigure,
                             facecolor="#99CCFF", edgecolor="none", zorder=0.5))
fig.patches.append(Rectangle((0, 0), 14 / W, 1, transform=fig.transFigure,
                             facecolor="#99CCFF", edgecolor="none", zorder=0.5))

labels = [
    ("ERA40 1999-2001", (400, 160, 750, 217), "#FF00FF", "#B3B3B3"),
    ("ERA40 1999", (460, 249, 717, 303), "#000000", "#B3B3B3"),
    ("ERA40 2000", (0, 656, 261, 720), "#0000FF", "#B3B3B3"),
    ("ERA Interim 96-98", (5, 764, 370, 827), "#00FFFF", "#474747"),
    ("ERA Interim\n2000", (686, 806, 953, 911), "#FF0000", "#B3B3B3"),
]
for text, (x0, y0, x1, y1), tcol, bcol in labels:
    fig.patches.append(Rectangle((x0 / W, 1 - y1 / H), (x1 - x0) / W, (y1 - y0) / H,
                                 transform=fig.transFigure, facecolor=bcol,
                                 edgecolor="#555555", linewidth=1.2, zorder=2))
    fig.text((x0 + x1) / 2 / W, 1 - (y0 + y1) / 2 / H, text, color=tcol, fontsize=26.5,
             family=["Liberation Sans", "DejaVu Sans"], ha="center", va="center",
             linespacing=1.2, zorder=3)

fig.savefig("out.png", dpi=100)
